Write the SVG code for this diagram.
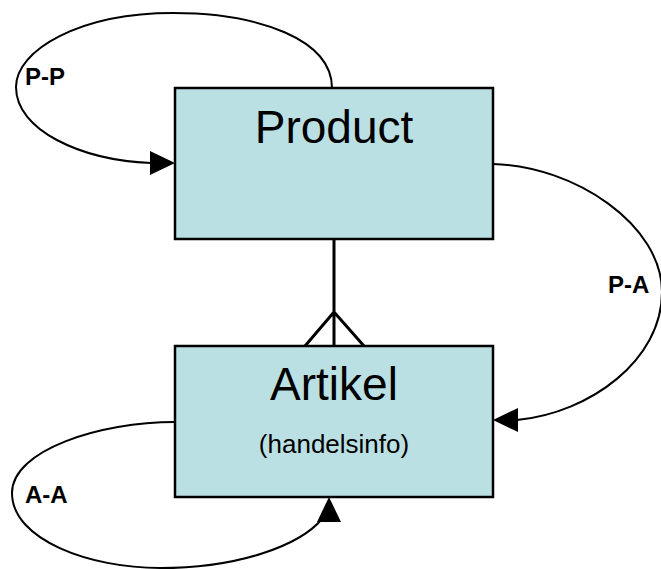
<svg xmlns="http://www.w3.org/2000/svg" xmlns:xlink="http://www.w3.org/1999/xlink" width="661" height="569" viewBox="0 0 661 569">
<style>
.box{fill:#BBE0E3;stroke:#000;stroke-width:2.5}
.title{font-family:"Liberation Sans",Arial,sans-serif;font-size:46px;fill:#000;text-anchor:middle}
.sub{font-family:"Liberation Sans",Arial,sans-serif;font-size:26px;fill:#000;text-anchor:middle}
.lbl{font-family:"Liberation Sans",Arial,sans-serif;font-size:24px;font-weight:bold;fill:#000}
.loop{fill:none;stroke:#000;stroke-width:2}
.rel{fill:none;stroke:#000;stroke-width:3}
</style>
<defs>
<path id="arrow" d="M0,0 L-25,-12 L-25,12 Z" fill="#000"/>
</defs>
<rect x="0" y="0" width="661" height="569" fill="#fff"/>
<g id="connectors">
<path class="rel" d="M334,240 L334,346 M305,346 L334,312 L364,346"/>
<path id="pp" class="loop" d="M332,88 C332,40 260,13 173,13 C80,13 16,50 16,87 C16,130 80,160 151,163"/>
<use xlink:href="#arrow" transform="translate(175,163)"/>
<path id="pa" class="loop" d="M493,164 C575,166 662,225 662,292 C662,360 590,413 517,420"/>
<use xlink:href="#arrow" transform="translate(493,420) rotate(180)"/>
<path id="aa" class="loop" d="M175,422 C100,422 12,450 12,493 C12,540 90,568 160,568 C240,568 300,545 322,519"/>
<use xlink:href="#arrow" transform="translate(329,497) rotate(-90)"/>
<text class="lbl" x="25" y="85">P-P</text>
<text class="lbl" x="608" y="293">P-A</text>
<text class="lbl" x="25" y="503">A-A</text>
</g>
<g id="product">
<rect class="box" x="175" y="88" width="318" height="151"/>
<text class="title" x="334" y="143">Product</text>
</g>
<g id="artikel">
<rect class="box" x="175" y="346" width="318" height="151"/>
<text class="title" x="334" y="400">Artikel</text>
<text class="sub" x="334" y="453">(handelsinfo)</text>
</g>
</svg>
